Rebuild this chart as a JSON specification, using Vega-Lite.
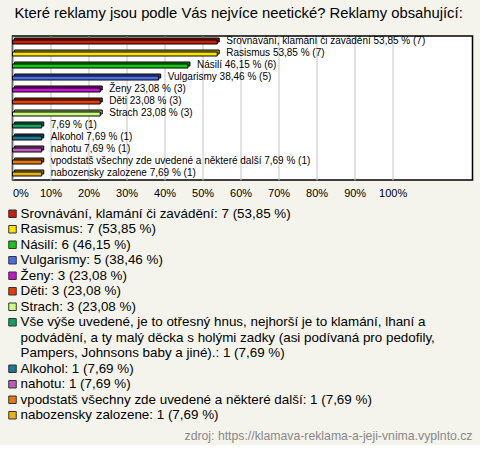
{
  "$schema": "https://vega.github.io/schema/vega-lite/v6.json",
  "background": "#f4f4ec",
  "padding": {"left": 6.5, "top": 5, "right": 9, "bottom": 2},
  "datasets": {
    "answers": [
      {"cat": "Srovnávání, klamání či zavádění", "pct": 53.85, "count": 7, "barLabel": "Srovnávání, klamání či zavádění 53,85 % (7)", "legend": ["Srovnávání, klamání či zavádění: 7 (53,85 %)"]},
      {"cat": "Rasismus", "pct": 53.85, "count": 7, "barLabel": "Rasismus 53,85 % (7)", "legend": ["Rasismus: 7 (53,85 %)"]},
      {"cat": "Násilí", "pct": 46.15, "count": 6, "barLabel": "Násilí 46,15 % (6)", "legend": ["Násilí: 6 (46,15 %)"]},
      {"cat": "Vulgarismy", "pct": 38.46, "count": 5, "barLabel": "Vulgarismy 38,46 % (5)", "legend": ["Vulgarismy: 5 (38,46 %)"]},
      {"cat": "Ženy", "pct": 23.08, "count": 3, "barLabel": "Ženy 23,08 % (3)", "legend": ["Ženy: 3 (23,08 %)"]},
      {"cat": "Děti", "pct": 23.08, "count": 3, "barLabel": "Děti 23,08 % (3)", "legend": ["Děti: 3 (23,08 %)"]},
      {"cat": "Strach", "pct": 23.08, "count": 3, "barLabel": "Strach 23,08 % (3)", "legend": ["Strach: 3 (23,08 %)"]},
      {"cat": "Vše výše uvedené", "pct": 7.69, "count": 1, "barLabel": "7,69 % (1)", "legend": ["Vše výše uvedené, je to otřesný hnus, nejhorší je to klamání, lhaní a", "podvádění, a ty malý děcka s holými zadky (asi podívaná pro pedofily,", "Pampers, Johnsons baby a jiné).: 1 (7,69 %)"]},
      {"cat": "Alkohol", "pct": 7.69, "count": 1, "barLabel": "Alkohol 7,69 % (1)", "legend": ["Alkohol: 1 (7,69 %)"]},
      {"cat": "nahotu", "pct": 7.69, "count": 1, "barLabel": "nahotu 7,69 % (1)", "legend": ["nahotu: 1 (7,69 %)"]},
      {"cat": "vpodstatš všechny zde uvedené a některé další", "pct": 7.69, "count": 1, "barLabel": "vpodstatš všechny zde uvedené a některé další 7,69 % (1)", "legend": ["vpodstatš všechny zde uvedené a některé další: 1 (7,69 %)"]},
      {"cat": "nabozensky zalozene", "pct": 7.69, "count": 1, "barLabel": "nabozensky zalozene 7,69 % (1)", "legend": ["nabozensky zalozene: 1 (7,69 %)"]}
    ]
  },
  "spacing": 7,
  "vconcat": [
    {
      "width": 460,
      "height": 144,
      "title": {
        "text": "Které reklamy jsou podle Vás nejvíce neetické? Reklamy obsahující:",
        "anchor": "start",
        "frame": "group",
        "dx": 2,
        "fontSize": 14.8,
        "font": "Liberation Sans",
        "fontWeight": "normal",
        "color": "#000000",
        "offset": 15
      },
      "view": {"fill": "#ffffff", "stroke": "#000000", "strokeWidth": 1.5},
      "data": {"name": "answers"},
      "encoding": {
        "y": {"field": "cat", "type": "nominal", "sort": null, "axis": null, "scale": {"paddingInner": 0.3, "paddingOuter": 0.15}},
        "x": {
          "field": "pct", "type": "quantitative",
          "scale": {"domain": [0, 121], "nice": false, "zero": true},
          "axis": {
            "title": null,
            "values": [0, 10, 20, 30, 40, 50, 60, 70, 80, 90, 100],
            "labelExpr": "datum.value + '%'",
            "grid": true,
            "gridColor": "#c4c4c4",
            "gridWidth": 1,
            "ticks": false,
            "domain": false,
            "labelFlush": true,
            "labelPadding": 7,
            "labelFontSize": 11,
            "labelFont": "Liberation Sans",
            "labelColor": "#000000"
          }
        }
      },
      "layer": [
        {
          "mark": {"type": "bar", "size": 4, "xOffset": 2, "x2Offset": 2, "yOffset": -2, "y2Offset": -2, "stroke": "#000000", "strokeWidth": 1},
          "encoding": {
            "color": {"field": "cat", "type": "nominal", "legend": null, "scale": {
              "domain": ["Srovnávání, klamání či zavádění", "Rasismus", "Násilí", "Vulgarismy", "Ženy", "Děti", "Strach", "Vše výše uvedené", "Alkohol", "nahotu", "vpodstatš všechny zde uvedené a některé další", "nabozensky zalozene"],
              "range": ["#c81e0a", "#ffe400", "#14c814", "#4a6ee6", "#c814d2", "#e63c0a", "#ccff80", "#14a064", "#1e7896", "#c05ac0", "#e67814", "#e6b414"]
            }}
          }
        },
        {
          "mark": {"type": "bar", "size": 4, "color": "#000000", "opacity": 0.3, "xOffset": 2, "x2Offset": 2, "yOffset": -2, "y2Offset": -2},
          "encoding": {}
        },
        {
          "mark": {"type": "bar", "size": 4, "stroke": "#000000", "strokeWidth": 1},
          "encoding": {
            "color": {"field": "cat", "type": "nominal", "legend": null}
          }
        },
        {
          "mark": {"type": "text", "align": "left", "baseline": "middle", "dx": 9, "dy": -1, "fontSize": 10, "font": "Liberation Sans", "color": "#000000"},
          "encoding": {"text": {"field": "barLabel", "type": "nominal"}}
        }
      ]
    },
    {
      "width": 460,
      "height": 217,
      "view": {"stroke": null, "fill": null},
      "data": {"name": "answers"},
      "title": {
        "text": "zdroj: https://klamava-reklama-a-jeji-vnima.vyplnto.cz",
        "orient": "bottom",
        "anchor": "end",
        "fontSize": 12.25,
        "font": "Liberation Sans",
        "fontWeight": "normal",
        "color": "#888888",
        "offset": 7
      },
      "transform": [
        {"flatten": ["legend"], "as": ["line"]},
        {"window": [{"op": "row_number", "as": "ln"}]},
        {"window": [{"op": "row_number", "as": "k"}], "groupby": ["cat"]}
      ],
      "encoding": {
        "y": {"field": "ln", "type": "ordinal", "axis": null, "scale": {"type": "point", "padding": 0.5}},
        "x": {"datum": 0, "type": "quantitative", "axis": null, "scale": {"domain": [0, 1]}}
      },
      "layer": [
        {
          "transform": [{"filter": "datum.k == 1"}],
          "mark": {"type": "square", "size": 56, "filled": true, "opacity": 1, "stroke": "#333333", "strokeWidth": 1, "dx": 1},
          "encoding": {
            "color": {"field": "cat", "type": "nominal", "legend": null, "scale": {
              "domain": ["Srovnávání, klamání či zavádění", "Rasismus", "Násilí", "Vulgarismy", "Ženy", "Děti", "Strach", "Vše výše uvedené", "Alkohol", "nahotu", "vpodstatš všechny zde uvedené a některé další", "nabozensky zalozene"],
              "range": ["#c81e0a", "#ffe400", "#14c814", "#4a6ee6", "#c814d2", "#e63c0a", "#ccff80", "#14a064", "#1e7896", "#c05ac0", "#e67814", "#e6b414"]
            }}
          }
        },
        {
          "mark": {"type": "text", "align": "left", "baseline": "middle", "dx": 8, "fontSize": 13.4, "font": "Liberation Sans", "color": "#000000"},
          "encoding": {"text": {"field": "line", "type": "nominal"}}
        }
      ]
    }
  ],
  "config": {
    "view": {"stroke": null},
    "font": "Liberation Sans"
  }
}
